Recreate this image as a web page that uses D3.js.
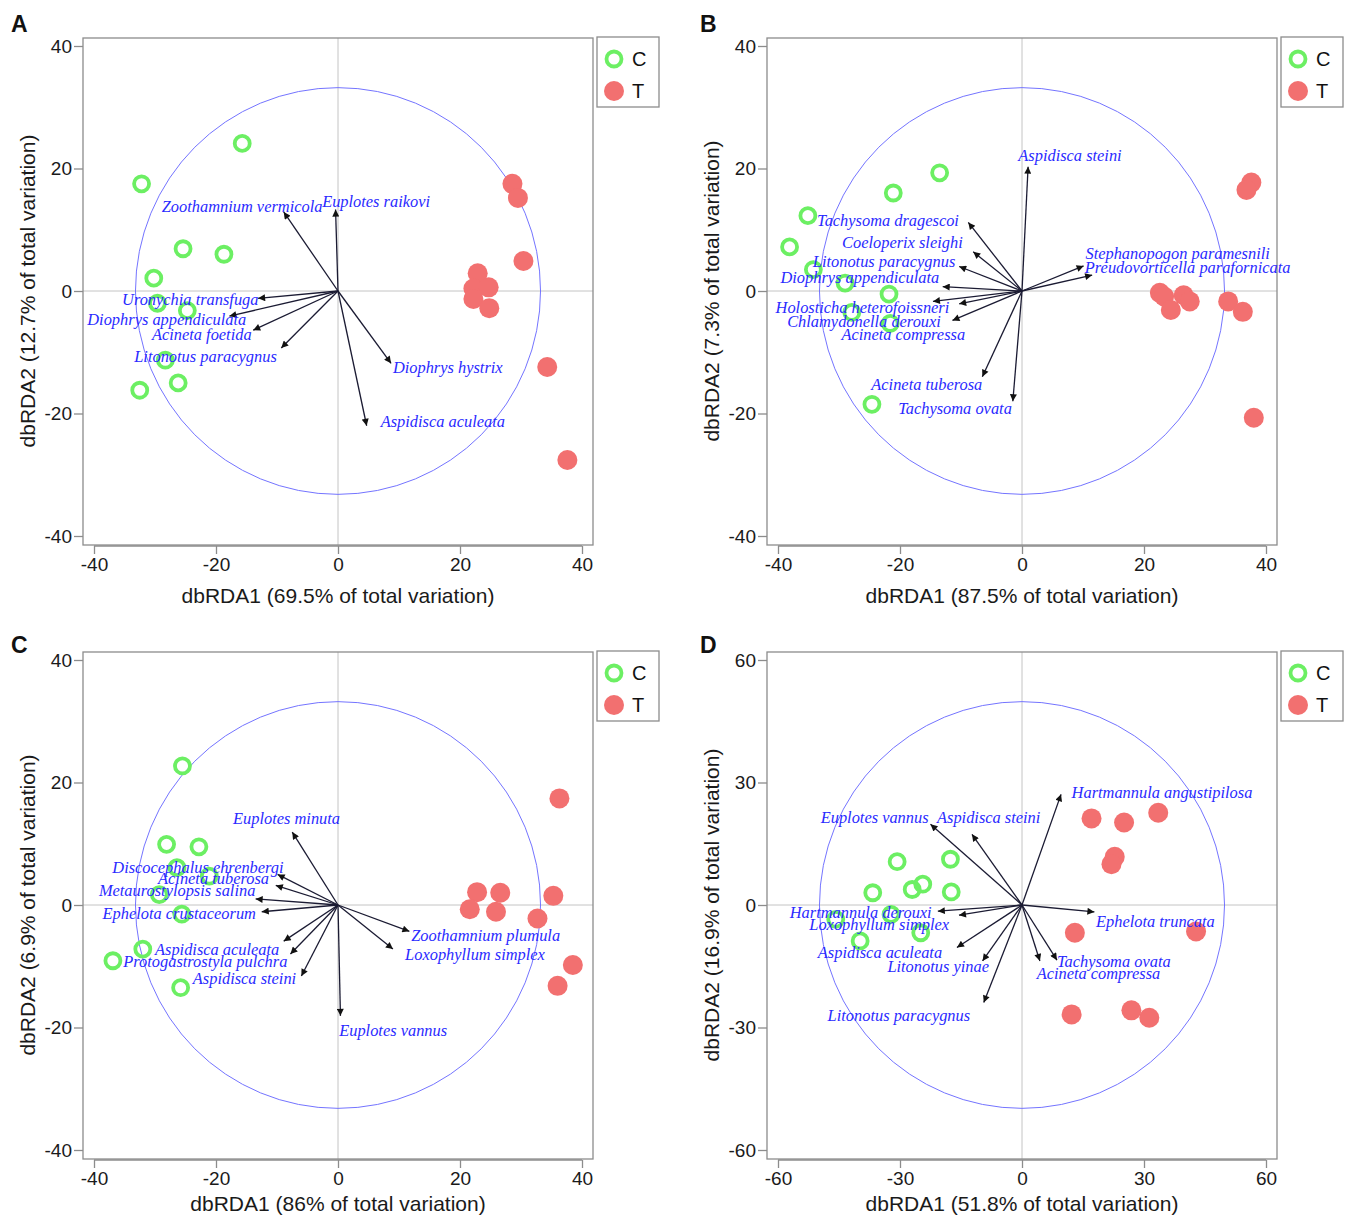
<!DOCTYPE html>
<html>
<head>
<meta charset="utf-8">
<script src="https://cdn.jsdelivr.net/npm/d3@7"></script>
<style>
	body { margin: 0; background: #fff; }
	svg { display: block; }
	.tick-label { font-family: "Liberation Sans", Arial, sans-serif; font-size: 19px; fill: #1a1a1a; }
	.axis-title { font-family: "Liberation Sans", Arial, sans-serif; font-size: 21px; fill: #1a1a1a; }
	.panel-letter { font-family: "Liberation Sans", Arial, sans-serif; font-size: 23px; font-weight: bold; fill: #111; }
	.species { font-family: "Liberation Serif", "Times New Roman", serif; font-style: italic; font-size: 16.4px; fill: #2a2aff; }
	.legend-text { font-family: "Liberation Sans", Arial, sans-serif; font-size: 20px; fill: #111; }
</style>
</head>
<body>
<svg width="1346" height="1216"></svg>
<script>
// ---- panel A ----
var aC = [[-15.7,24.1],[-32.2,17.5],[-25.4,6.9],[-18.7,6.0],[-30.2,2.1],[-29.6,-2.0],[-24.7,-3.2],[-28.3,-11.3],[-26.2,-15.0],[-32.5,-16.2]];
var aT = [[28.6,17.5],[29.5,15.2],[30.4,4.9],[22.9,2.9],[22.2,0.4],[24.7,0.6],[22.2,-1.3],[24.8,-2.8],[34.3,-12.4],[37.6,-27.6]];
var aArrows = [
	["Zoothamnium vermicola", -8.9, 12.9],
	["Euplotes raikovi", -0.4, 13.3],
	["Uronychia transfuga", -13.1, -1.2],
	["Diophrys appendiculata", -17.8, -4.1],
	["Acineta foetida", -13.9, -6.4],
	["Litonotus paracygnus", -9.3, -9.3],
	["Diophrys hystrix", 8.7, -11.8],
	["Aspidisca aculeata", 4.7, -22.0]
];
var aLabelAt = [[-28.9,12.9],[-2.6,13.7],[-35.4,-2.3],[-41.1,-5.6],[-30.5,-8.0],[-33.4,-11.6],[9.0,-13.4],[7.0,-22.2]];

// ---- panel B ----
var bC = [[-13.5,19.3],[-21.1,16.0],[-35.1,12.3],[-38.1,7.2],[-34.2,3.5],[-29.0,1.3],[-21.8,-0.5],[-27.9,-3.5],[-21.6,-5.3],[-24.6,-18.5]];
var bT = [[37.6,17.7],[36.8,16.5],[22.6,-0.3],[23.3,-0.9],[24.4,-3.1],[26.5,-0.7],[27.5,-1.7],[33.8,-1.7],[36.2,-3.4],[38.0,-20.7]];
var bArrows = [
	["Aspidisca steini", 1.0, 20.3],
	["Tachysoma dragescoi", -8.8, 11.2],
	["Coeloperix sleighi", -8.0, 6.4],
	["Litonotus paracygnus", -10.3, 4.0],
	["Diophrys appendiculata", -13.0, 0.7],
	["Stephanopogon paramesnili", 10.1, 4.1],
	["Preudovorticella parafornicata", 11.5, 2.6],
	["Holosticha heterofoissneri", -14.6, -1.7],
	["Chlamydonella derouxi", -10.3, -2.1],
	["Acineta compressa", -11.4, -4.8],
	["Acineta tuberosa", -6.5, -14.0],
	["Tachysoma ovata", -1.5, -18.0]
];
var bLabelAt = [[-0.6,21.2],[-33.6,10.6],[-29.5,7.0],[-34.3,3.9],[-39.6,1.3],[10.4,5.2],[10.3,2.9],[-40.4,-3.6],[-38.5,-5.9],[-29.6,-8.0],[-24.7,-16.2],[-20.3,-20.1]];

// ---- panel C ----
var cC = [[-25.5,22.7],[-28.1,9.9],[-22.8,9.5],[-26.4,6.1],[-21.1,4.7],[-29.3,1.7],[-25.6,-1.5],[-32.0,-7.2],[-36.9,-9.1],[-25.8,-13.5]];
var cT = [[36.3,17.4],[22.8,2.1],[26.6,2.0],[35.3,1.5],[21.6,-0.7],[25.9,-1.1],[32.7,-2.2],[38.5,-9.8],[36.0,-13.2]];
var cArrows = [
	["Euplotes minuta", -7.5, 11.9],
	["Discocephalus ehrenbergi", -9.9, 5.0],
	["Acineta tuberosa", -10.2, 3.2],
	["Metaurostylopsis salina", -13.5, 1.0],
	["Ephelota crustaceorum", -12.5, -1.1],
	["Aspidisca aculeata", -8.9, -5.9],
	["Protogastrostyla pulchra", -7.8, -8.0],
	["Aspidisca steini", -6.0, -11.6],
	["Euplotes vannus", 0.4, -18.1],
	["Zoothamnium plumula", 11.7, -4.3],
	["Loxophyllum simplex", 9.0, -7.2]
];
var cLabelAt = [[-17.2,13.2],[-37.0,5.3],[-29.5,3.4],[-39.2,1.5],[-38.6,-2.3],[-30.0,-8.2],[-35.2,-10.2],[-23.8,-12.9],[0.2,-21.4],[12.0,-5.8],[11.0,-8.9]];

// ---- panel D ----
var dC = [[-30.7,10.6],[-17.6,11.2],[-36.7,3.0],[-27.0,3.8],[-24.4,5.1],[-17.4,3.2],[-32.2,-2.3],[-45.8,-3.5],[-24.9,-6.8],[-39.8,-8.8]];
var dT = [[17.1,21.2],[25.1,20.2],[33.5,22.6],[22.8,11.8],[22.0,10.0],[13.0,-6.8],[42.8,-6.5],[12.2,-26.8],[26.9,-25.8],[31.3,-27.6]];
var dArrows = [
	["Hartmannula angustipilosa", 9.6, 27.1],
	["Euplotes vannus", -22.5, 19.8],
	["Aspidisca steini", -12.3, 17.3],
	["Hartmannula derouxi", -20.7, -1.5],
	["Loxophyllum simplex", -15.5, -2.5],
	["Ephelota truncata", 17.8, -1.7],
	["Aspidisca aculeata", -16.0, -10.4],
	["Litonotus yinae", -9.7, -13.7],
	["Litonotus paracygnus", -9.4, -23.9],
	["Tachysoma ovata", 8.6, -13.5],
	["Acineta compressa", 4.4, -13.7]
];
var dLabelAt = [[12.2,26.3],[-49.5,20.2],[-20.9,20.2],[-57.1,-3.1],[-52.3,-6.0],[18.2,-5.3],[-50.2,-12.9],[-33.1,-16.4],[-47.8,-28.4],[8.6,-15.3],[3.6,-18.0]];

var ticks40 = [-40, -20, 0, 20, 40];
var ticks60 = [-60, -30, 0, 30, 60];
var groups = ["C", "T"];

var panels = [
	{ letter: "A", ox: 83, oy: 38, letterX: -72, letterY: -6, titleY: 565, max: 40, ticks: ticks40, radius: 33.2,
		C: aC, T: aT, arrows: aArrows, labelAt: aLabelAt,
		xTitle: "dbRDA1 (69.5% of total variation)", yTitle: "dbRDA2 (12.7% of total variation)" },
	{ letter: "B", ox: 767, oy: 38, letterX: -67, letterY: -6, titleY: 565, max: 40, ticks: ticks40, radius: 33.2,
		C: bC, T: bT, arrows: bArrows, labelAt: bLabelAt,
		xTitle: "dbRDA1 (87.5% of total variation)", yTitle: "dbRDA2 (7.3% of total variation)" },
	{ letter: "C", ox: 83, oy: 652, letterX: -72, letterY: 1, titleY: 559, max: 40, ticks: ticks40, radius: 33.2,
		C: cC, T: cT, arrows: cArrows, labelAt: cLabelAt,
		xTitle: "dbRDA1 (86% of total variation)", yTitle: "dbRDA2 (6.9% of total variation)" },
	{ letter: "D", ox: 767, oy: 652, letterX: -67, letterY: 1, titleY: 559, max: 60, ticks: ticks60, radius: 49.8,
		C: dC, T: dT, arrows: dArrows, labelAt: dLabelAt,
		xTitle: "dbRDA1 (51.8% of total variation)", yTitle: "dbRDA2 (16.9% of total variation)" }
];

var svg = d3.select("svg");

svg.append("defs").append("marker")
	.attr("id", "head")
	.attr("viewBox", "0 0 10 10")
	.attr("refX", 10).attr("refY", 5)
	.attr("markerWidth", 10).attr("markerHeight", 7)
	.attr("markerUnits", "userSpaceOnUse")
	.attr("orient", "auto")
	.append("path").attr("d", "M0,0L10,5L0,10Z").attr("fill", "#111");

function drawPanel(p) {
	var W = 510, H = 507;
	var x = d3.scaleLinear().domain([-p.max, p.max]).range([p.ox + 11, p.ox + 499]);
	var y = d3.scaleLinear().domain([-p.max, p.max]).range([p.oy + 498, p.oy + 8]);
	var g = svg.append("g");

	// zero lines
	g.append("line").attr("x1", p.ox).attr("x2", p.ox + W).attr("y1", y(0)).attr("y2", y(0))
		.attr("stroke", "#c4c4c4").attr("stroke-width", 1);
	g.append("line").attr("x1", x(0)).attr("x2", x(0)).attr("y1", p.oy).attr("y2", p.oy + H)
		.attr("stroke", "#c4c4c4").attr("stroke-width", 1);

	// frame
	g.append("rect").attr("x", p.ox).attr("y", p.oy).attr("width", W).attr("height", H)
		.attr("fill", "none").attr("stroke", "#8c8c8c").attr("stroke-width", 1.3);

	// axes
	var yAxis = g.append("g").attr("transform", "translate(" + p.ox + ",0)")
		.call(d3.axisLeft(y).tickValues(p.ticks).tickSize(9).tickPadding(2));
	var xAxis = g.append("g").attr("transform", "translate(0," + (p.oy + H + 1) + ")")
		.call(d3.axisBottom(x).tickValues(p.ticks).tickSize(8).tickPadding(4));
	[xAxis, yAxis].forEach(function(a) {
		a.selectAll("line").attr("stroke", "#8c8c8c").attr("stroke-width", 1.3);
		a.selectAll("text").attr("class", "tick-label").attr("fill", null)
			.text(function(d) { return d < 0 ? "-" + Math.abs(d) : d; });
		a.select(".domain").remove();
	});
	g.append("line").attr("x1", x(-p.max)).attr("x2", x(p.max)).attr("y1", p.oy + H + 1).attr("y2", p.oy + H + 1)
		.attr("stroke", "#8c8c8c").attr("stroke-width", 1.3);

	// correlation circle
	g.append("ellipse").attr("cx", x(0)).attr("cy", y(0))
		.attr("rx", x(p.radius) - x(0)).attr("ry", y(0) - y(p.radius))
		.attr("fill", "none").attr("stroke", "#7474ff").attr("stroke-width", 1);

	// samples
	g.append("g").selectAll("circle").data(p.C).enter().append("circle")
		.attr("cx", function(d) { return x(d[0]); })
		.attr("cy", function(d) { return y(d[1]); })
		.attr("r", 7.5).attr("fill", "none").attr("stroke", "#6cef63").attr("stroke-width", 3.8);
	g.append("g").selectAll("circle").data(p.T).enter().append("circle")
		.attr("cx", function(d) { return x(d[0]); })
		.attr("cy", function(d) { return y(d[1]); })
		.attr("r", 10).attr("fill", "#f27070");

	// species vectors
	g.append("g").selectAll("line").data(p.arrows).enter().append("line")
		.attr("x1", x(0)).attr("y1", y(0))
		.attr("x2", function(d) { return x(d[1]); })
		.attr("y2", function(d) { return y(d[2]); })
		.attr("stroke", "#1b1b33").attr("stroke-width", 1.3)
		.attr("marker-end", "url(#head)");

	g.append("g").selectAll("text").data(p.arrows).enter().append("text")
		.attr("class", "species")
		.attr("x", function(d, i) { return x(p.labelAt[i][0]); })
		.attr("y", function(d, i) { return y(p.labelAt[i][1]); })
		.text(function(d) { return d[0]; });

	// titles
	g.append("text").attr("class", "axis-title").attr("text-anchor", "middle")
		.attr("x", x(0)).attr("y", p.oy + p.titleY).text(p.xTitle);
	g.append("text").attr("class", "axis-title").attr("text-anchor", "middle")
		.attr("transform", "translate(" + (p.ox - 48) + "," + y(0) + ") rotate(-90)")
		.text(p.yTitle);
	g.append("text").attr("class", "panel-letter")
		.attr("x", p.ox + p.letterX).attr("y", p.oy + p.letterY).text(p.letter);

	// legend
	var lg = g.append("g").attr("transform", "translate(" + (p.ox + 514) + "," + (p.oy - 1) + ")");
	lg.append("rect").attr("width", 62).attr("height", 70)
		.attr("fill", "#fff").attr("stroke", "#8c8c8c").attr("stroke-width", 1.3);
	groups.forEach(function(k, i) {
		var cy = 22 + i * 32;
		if (k === "C") {
			lg.append("circle").attr("cx", 17).attr("cy", cy).attr("r", 7.5)
				.attr("fill", "none").attr("stroke", "#6cef63").attr("stroke-width", 3.8);
		} else {
			lg.append("circle").attr("cx", 17).attr("cy", cy).attr("r", 10).attr("fill", "#f27070");
		}
		lg.append("text").attr("class", "legend-text").attr("x", 35).attr("y", cy + 7).text(k);
	});
}

panels.forEach(drawPanel);
</script>
</body>
</html>
